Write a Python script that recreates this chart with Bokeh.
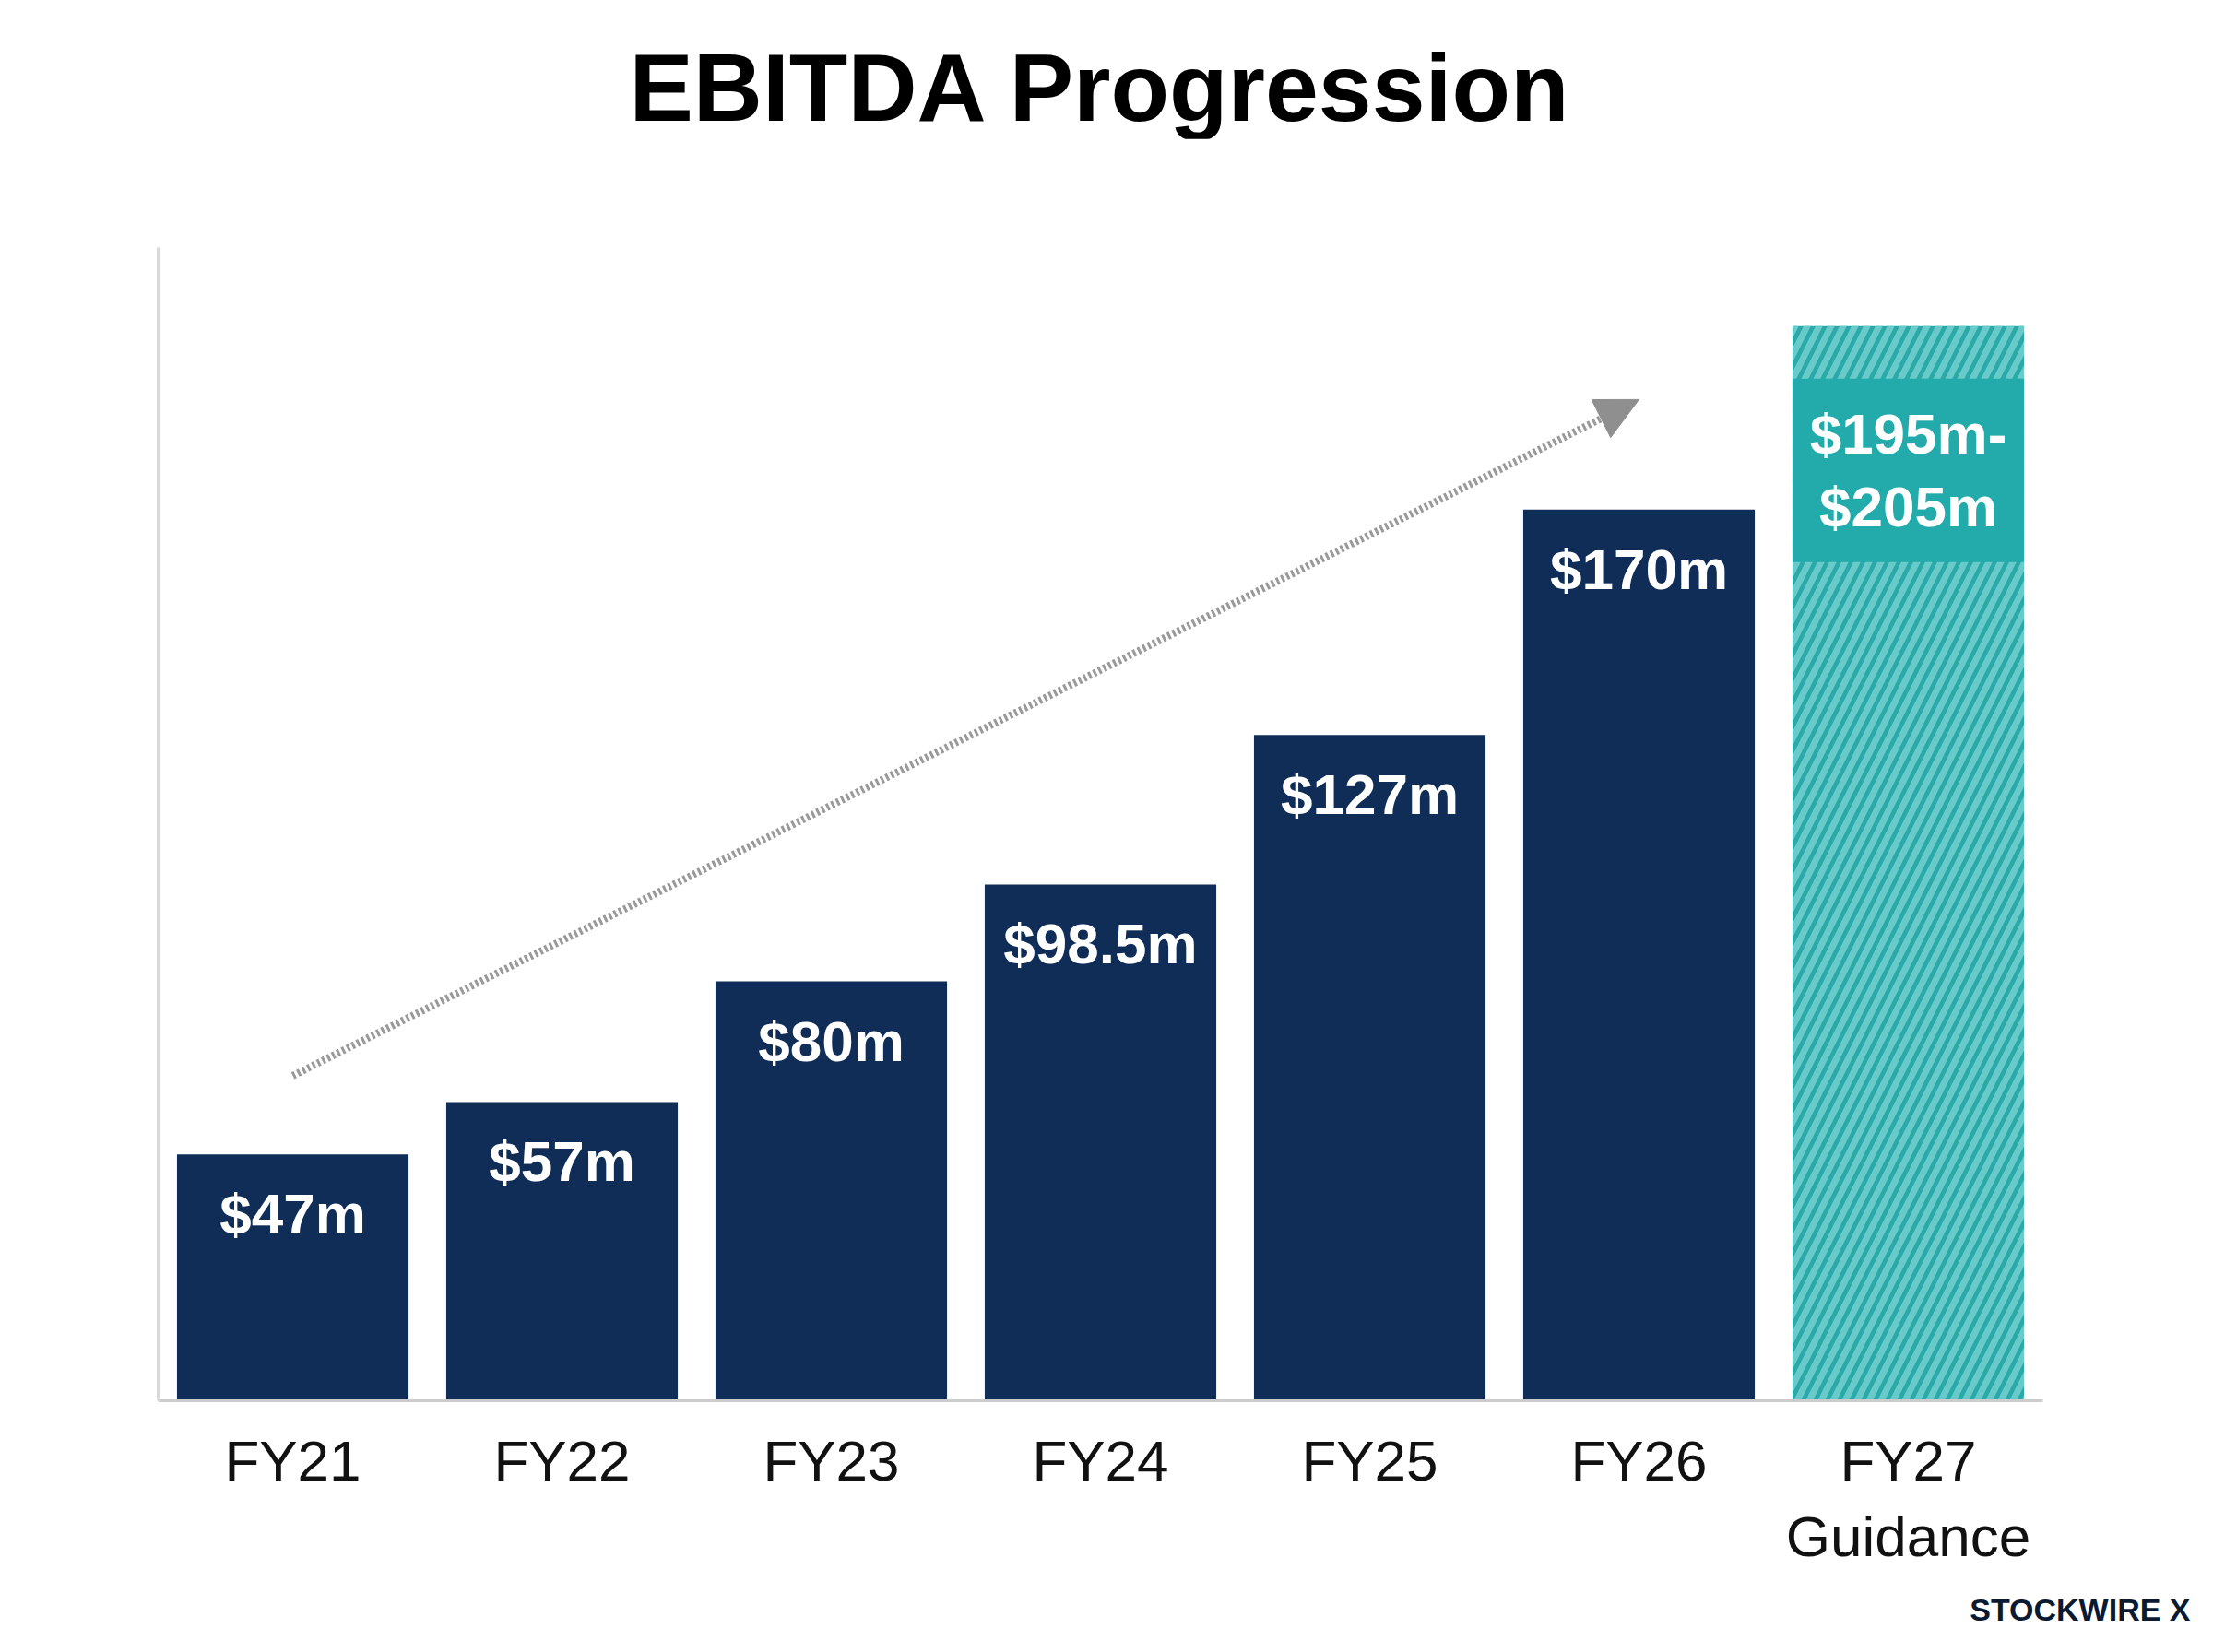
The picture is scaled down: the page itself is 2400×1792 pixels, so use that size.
from bokeh.plotting import figure
from bokeh.models import Arrow, NormalHead, Title, Div, Range1d, FactorRange
from bokeh.layouts import column
from bokeh.embed import file_html
from bokeh.resources import INLINE
from bokeh.core.properties import value

categories = ["FY21", "FY22", "FY23", "FY24", "FY25", "FY26", "FY27\nGuidance"]
values = [47, 57, 80, 98.5, 127, 170]
labels = ["$47m", "$57m", "$80m", "$98.5m", "$127m", "$170m"]
guidance_low = 195
guidance_high = 205
guidance_label = "$195m-\n$205m"

FONT = "Liberation Sans"
W = 2384
title = Div(text="EBITDA Progression", width=W, height=110, margin=(40, 0, 0, 0),
            styles={"font-family": FONT, "font-size": "104px", "font-weight": "bold",
                    "color": "#000000", "text-align": "center", "line-height": "110px",
                    "width": f"{W}px"})
FH = 1784 - 150
p = figure(x_range=FactorRange(*categories, range_padding=0), y_range=Range1d(0, 220),
           width=W, height=FH, output_backend="svg", toolbar_location=None,
           min_border_left=171, min_border_right=W - 171 - 2044,
           min_border_top=118, min_border_bottom=FH - (1519 - 150))
p.outline_line_color = None
p.xgrid.grid_line_color = None
p.ygrid.grid_line_color = None
p.yaxis.major_label_text_font_size = "0px"
p.yaxis.major_tick_line_color = None
p.yaxis.minor_tick_line_color = None
p.yaxis.axis_line_color = "#d9d9d9"
p.yaxis.axis_line_width = 3
p.xaxis.axis_line_color = "#cccccc"
p.xaxis.axis_line_width = 3
p.xaxis.major_tick_line_color = None
p.xaxis.minor_tick_line_color = None
p.xaxis.major_label_text_font = FONT
p.xaxis.major_label_text_font_size = "62px"
p.xaxis.major_label_text_color = "#111111"
p.xaxis.major_label_standoff = 24

hist = categories[:6]
p.vbar(x=hist, top=values, width=0.86, fill_color="#0f2d57", line_color=None)
p.text(x=hist, y=values, text=labels, text_color="white", text_font=value(FONT),
       text_font_style="bold", text_font_size="62px", text_align="center",
       text_baseline="top", y_offset=30)

g = categories[6]
p.vbar(x=[g], top=[guidance_high], width=0.86, fill_color="#2aa9a8", line_color=None,
       hatch_pattern="/", hatch_color="#68cbca", hatch_weight=7, hatch_scale=26)
p.vbar(x=[g], bottom=[160], top=[guidance_low], width=0.86, fill_color="#22abaa", line_color=None)
p.text(x=[g], y=[177.5], text=[guidance_label], text_color="white", text_font=value(FONT),
       text_font_style="bold", text_font_size="62px", text_align="center",
       text_baseline="middle", text_line_height=1.15)

p.add_layout(Arrow(end=NormalHead(size=46, fill_color="#8f8f8f", line_color="#8f8f8f"),
                   x_start=0.5, y_start=62, x_end=5.5, y_end=191,
                   line_color="#9a9a9a", line_width=8, line_dash="3 3"))

p.add_layout(Title(text="STOCKWIRE X", align="right", text_font=FONT, text_font_style="bold",
                   text_font_size="34px", text_color="#0b1a33", standoff=40, offset=-160), "below")

layout = column(title, p, spacing=0)
open("out.html", "w").write(file_html(layout, INLINE))
